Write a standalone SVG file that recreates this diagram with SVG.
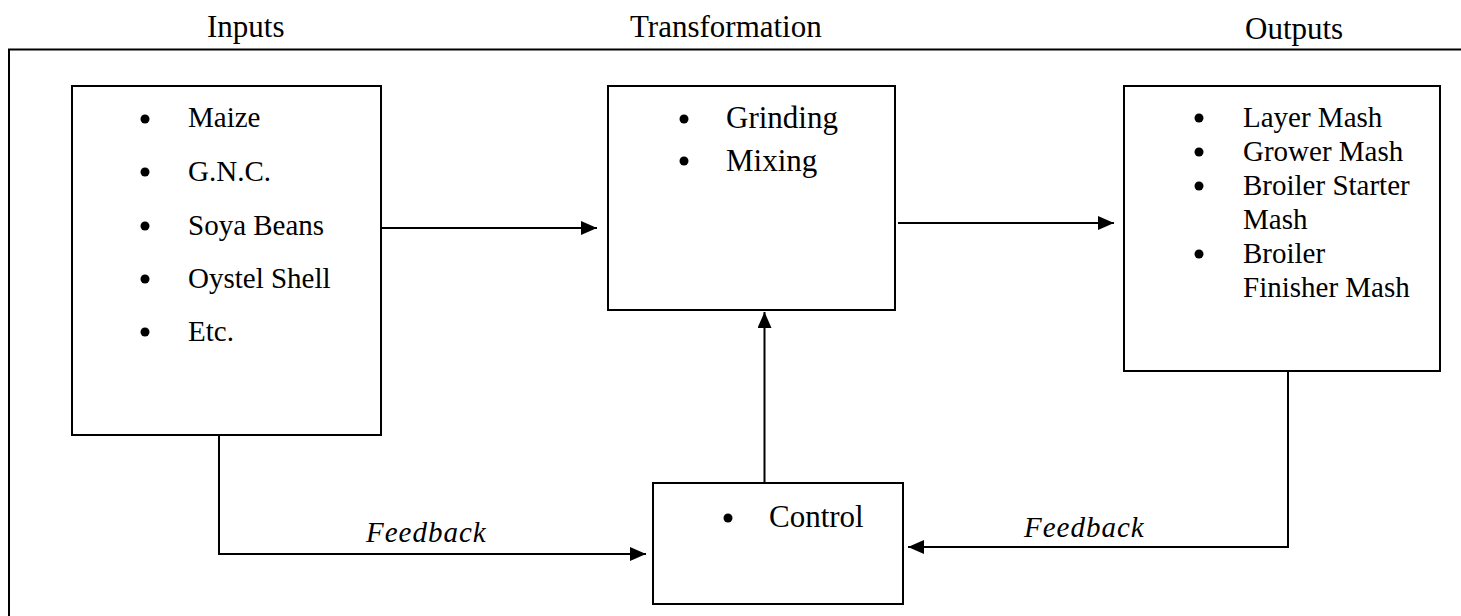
<svg xmlns="http://www.w3.org/2000/svg" width="1461" height="616" viewBox="0 0 1461 616">
<style>
.box{fill:#fff;stroke:#000;stroke-width:2}
.ln{fill:none;stroke:#000;stroke-width:2}
.hd{font-family:"Liberation Serif","Times New Roman",serif;font-size:31px;fill:#000}
.t29{font-family:"Liberation Serif","Times New Roman",serif;font-size:29px;fill:#000}
.t31{font-family:"Liberation Serif","Times New Roman",serif;font-size:31px;fill:#000}
.fb{font-family:"Liberation Serif","Times New Roman",serif;font-size:29px;font-style:italic;letter-spacing:1px;fill:#000}
.dot{fill:#000}
</style>
<defs>
<marker id="ah" viewBox="0 0 16 14" refX="16" refY="7" markerWidth="16" markerHeight="14" markerUnits="userSpaceOnUse" orient="auto">
<path d="M0,0 L16,7 L0,14 Z" fill="#000"/>
</marker>
</defs>
<rect width="1461" height="616" fill="#fff"/>
<g id="headers">
<text class="hd" x="207" y="37">Inputs</text>
<text class="hd" x="630" y="37">Transformation</text>
<text class="hd" x="1245" y="39">Outputs</text>
</g>
<g id="frame">
<path class="ln" d="M9,617 L9,49.5 L1462,49.5"/>
</g>
<g id="inputs">
<rect class="box" x="72" y="86" width="309" height="349"/>
<circle class="dot" cx="145" cy="119" r="4.5"/><text class="t29" x="188" y="127">Maize</text>
<circle class="dot" cx="145" cy="172" r="4.5"/><text class="t29" x="188" y="181">G.N.C.</text>
<circle class="dot" cx="145" cy="226" r="4.5"/><text class="t29" x="188" y="235">Soya Beans</text>
<circle class="dot" cx="145" cy="279" r="4.5"/><text class="t29" x="188" y="288">Oystel Shell</text>
<circle class="dot" cx="145" cy="332" r="4.5"/><text class="t29" x="188" y="341">Etc.</text>
</g>
<g id="transformation">
<rect class="box" x="608" y="86" width="287" height="224"/>
<circle class="dot" cx="684" cy="119" r="4.5"/><text class="t31" x="726" y="128">Grinding</text>
<circle class="dot" cx="684" cy="161" r="4.5"/><text class="t31" x="726" y="171">Mixing</text>
</g>
<g id="outputs">
<rect class="box" x="1124" y="86" width="316" height="285"/>
<circle class="dot" cx="1199" cy="118" r="4.5"/><text class="t29" x="1243" y="127">Layer Mash</text>
<circle class="dot" cx="1199" cy="152" r="4.5"/><text class="t29" x="1243" y="161">Grower Mash</text>
<circle class="dot" cx="1199" cy="186" r="4.5"/><text class="t29" x="1243" y="195">Broiler Starter</text>
<text class="t29" x="1243" y="229">Mash</text>
<circle class="dot" cx="1199" cy="254" r="4.5"/><text class="t29" x="1243" y="263">Broiler</text>
<text class="t29" x="1243" y="297">Finisher Mash</text>
</g>
<g id="control">
<rect class="box" x="653" y="483" width="250" height="121"/>
<circle class="dot" cx="728" cy="518" r="4.5"/><text class="t31" x="769" y="527">Control</text>
</g>
<g id="connectors">
<path class="ln" d="M381,228 L597,228" marker-end="url(#ah)"/>
<path class="ln" d="M898,223 L1114,223" marker-end="url(#ah)"/>
<path class="ln" d="M764.5,483 L764.5,312" marker-end="url(#ah)"/>
<path class="ln" d="M219,435 L219,554 L646,554" marker-end="url(#ah)"/>
<path class="ln" d="M1288,371 L1288,547 L908,547" marker-end="url(#ah)"/>
<text class="fb" x="366" y="542">Feedback</text>
<text class="fb" x="1024" y="537">Feedback</text>
</g>
</svg>
